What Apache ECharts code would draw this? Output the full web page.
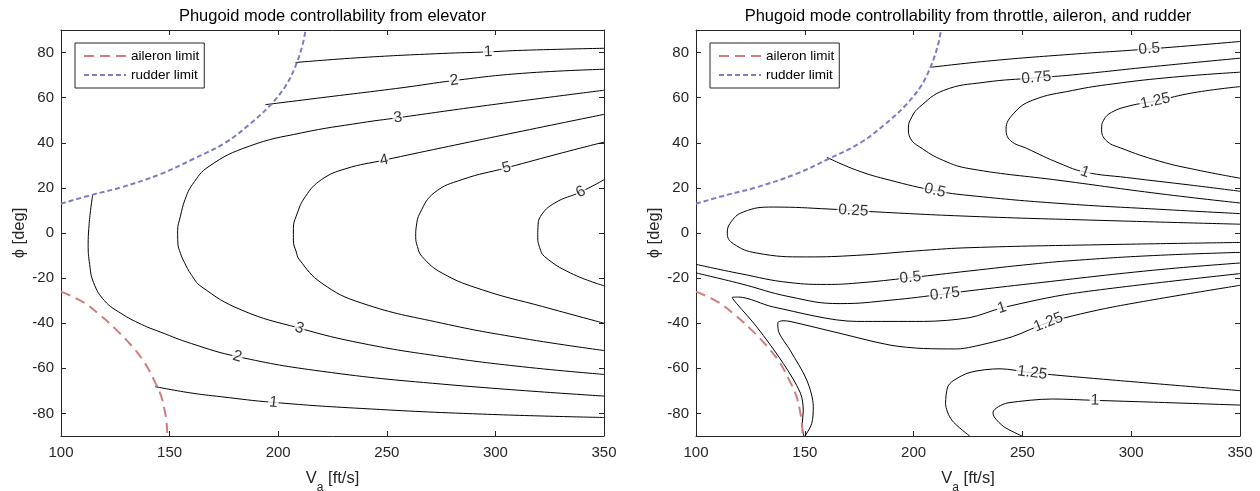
<!DOCTYPE html>
<html><head><meta charset="utf-8">
<script src="https://cdn.jsdelivr.net/npm/echarts@6/dist/echarts.min.js"></script>
<style>html,body{margin:0;padding:0;background:#fff}#c{width:1260px;height:491px}</style>
</head><body><div id="c"></div>
<script>
// ---------- data (V_a [ft/s], phi [deg]) ----------
const TITLES = ['Phugoid mode controllability from elevator', 'Phugoid mode controllability from throttle, aileron, and rudder'];
const LEGEND_NAMES = ['aileron limit', 'rudder limit'];
const RUDDER_LIMIT = [[100,13],[114.6,17],[127.6,20.2],[146,26.2],[160.8,32.8],[175.6,40],[186.7,48.1],[196,56.3],[203.4,65.2],[208,74.1],[211.1,83],[212.6,90]];
const AILERON_LIMIT = [[100,-26],[110,-30.5],[117.5,-36],[125,-42.5],[132.5,-50],[138.5,-57.5],[143,-65.5],[146,-72],[147.6,-78],[148.6,-84],[149,-90]];

// left panel contours (elevator)
const L_1_TOP = [[208,75.6],[238.5,77.8],[275.5,79.6],[296.7,80.3],[312.5,81],[350,81.9]];
const L_1_BOT = [[143.3,-68.1],[159,-70.8],[173.8,-72.6],[197.8,-75.1],[238.5,-77.8],[294,-80.3],[350,-81.8]];
const L_2_TOP = [[194.1,56.9],[220,60],[257,64.4],[281,67.6],[312.5,70.8],[350,72.6]];
const L_2_MAIN = [[114.6,17],[113.6,10],[112.8,2],[112.5,-5],[113.2,-14],[115,-22],[120,-30],[127.6,-35.6],[137,-40.5],[146,-44],[160,-49],[181.2,-54.8],[220,-61.3],[275.5,-67],[350,-72.3]];
const L_3 = [[350,63.3],[294,56.3],[255.1,51.1],[238.5,48.9],[210.8,44.4],[186.7,38.5],[168.2,29.6],[160.5,21.5],[157.1,14.8],[155,7.5],[153.7,1],[153.8,-4.5],[155,-9],[156.8,-13],[160,-18.5],[164.5,-23.7],[183,-34.1],[209.8,-42.2],[238.5,-48.9],[275.5,-54.8],[312.5,-59.3],[350,-62.7]];
const L_4 = [[350,52.6],[312.5,45.2],[275.5,37.8],[248.7,32.3],[231.1,28.5],[220,23.7],[212.6,16.3],[208.3,7.5],[207,2],[207,-3.5],[208.2,-8],[209.8,-11.9],[220,-22.2],[238.5,-31.1],[275.5,-40],[312.5,-46.7],[350,-52.1]];
const L_5 = [[350,40.3],[331,35.6],[305.1,28.9],[284.7,23.7],[271.8,17.8],[265.3,8.9],[263.6,3],[263.3,-1.5],[264.1,-6],[266.2,-10.4],[275.5,-17.8],[294,-25.2],[321.7,-32.6],[350,-40]];
const L_6 = [[350,23.6],[339.3,18.2],[327.3,13.3],[320.8,7.4],[319.6,2.5],[319.5,-2],[320.4,-6.5],[322.6,-10.4],[334.7,-17.8],[350,-23.4]];

// right panel contours (throttle, aileron, rudder)
const R_05_TOP = [[208.2,73.5],[236,76.4],[272,79.2],[308.3,81.6],[350,84.9]];
const R_075 = [[350,77.5],[310.2,73.8],[273.1,70.1],[256.4,68.8],[232.4,66.8],[213.8,63.2],[202.7,55.8],[199.2,51.5],[197.6,46.5],[198.5,42],[202.9,38.1],[213.6,32.2],[225.9,28.5],[267.3,23.3],[313.2,17.4],[350,13.3]];
const R_1 = [[350,71.3],[319.4,69.1],[291.6,66.1],[273.1,63.2],[254.5,58.8],[246,53],[242.5,46],[244.5,41],[252,37.5],[267.3,30.8],[278.8,27],[297.9,24.6],[328.5,21.1],[350,18.5]];
const R_125 = [[350,64.9],[328.7,62.2],[311.1,58.5],[299,56.3],[291,53.5],[287.3,50],[286.4,46],[288.5,41],[294.9,37.8],[313.2,31.8],[330,28],[350,24.3]];
const R_05_MID = [[160.1,33.6],[173.9,27.8],[189.2,23.4],[209.8,18.8],[225.9,16.6],[267.3,13.1],[313.2,10.5],[350,8.6]];
const R_025 = [[350,3.9],[285.7,5.6],[225.9,7.4],[180,9.5],[161.6,10.6],[135.5,11.5],[121.7,9.3],[115.6,4.2],[114.4,-0.3],[117.1,-4.7],[127.9,-8.9],[150.9,-10.6],[173.9,-9.9],[204.5,-7.7],[225.9,-6.5],[285.7,-5.2],[350,-4.2]];
const R_05_LOW = [[100,-13.9],[120.2,-18],[143.2,-22],[160,-22.8],[173.9,-22.2],[198.5,-19.8],[225.9,-16.8],[254.5,-13.8],[273.3,-12.2],[310.2,-10],[350,-8.6]];
const R_075_LOW = [[100,-17.7],[120.2,-22.4],[143.2,-28.3],[166.2,-31.3],[189.2,-29.8],[214.4,-27],[225.9,-25.6],[254.5,-22.4],[310.2,-16.5],[350,-13.3]];
const R_1_LOW = [[149.5,-90],[148.8,-85],[149.3,-79],[148,-71],[140.1,-57.8],[127.9,-41.6],[118.7,-31.3],[116.6,-28.6],[119.5,-28.4],[135.5,-32.8],[173.9,-39.2],[204.5,-39.2],[225.9,-37.5],[240.6,-33.2],[273.1,-26.8],[350,-18]];
const R_125_LOW = [[150.1,-90],[153.2,-84.4],[153.9,-77],[150.9,-65.2],[143.2,-51.9],[137.8,-43.1],[137.6,-39.8],[140,-38.9],[143.2,-39.2],[166.2,-44.5],[189.2,-49.7],[204.5,-51.2],[219.8,-51.4],[226.8,-50.5],[245.3,-46],[262,-39.6],[291.6,-32.8],[350,-23.2]];
const R_125_BR = [[225.8,-90],[217.5,-82.9],[214.7,-75.5],[215.7,-68.2],[218.2,-65.5],[225.9,-61.8],[239.7,-60.2],[254.5,-62],[291.6,-65.2],[350,-69.9]];
const R_1_BR = [[249.8,-90],[241.5,-85.9],[237,-81.5],[236.5,-79.5],[239,-77],[243.4,-75.3],[263.8,-73.6],[283.3,-74.2],[310.2,-75],[350,-76.3]];

const LEFT_CONTOURS = [L_1_TOP, L_1_BOT, L_2_TOP, L_2_MAIN, L_3, L_4, L_5, L_6];
const RIGHT_CONTOURS = [R_05_TOP, R_075, R_1, R_125, R_05_MID, R_025, R_05_LOW, R_075_LOW, R_1_LOW, R_125_LOW, R_125_BR, R_1_BR];
const RIGHT_TIPS = [R_1_LOW, R_125_LOW, R_125_BR, R_1_BR];

// contour labels: [V, phi, text, contour]
const LEFT_LABELS = [[296.7,80.3,'1',L_1_TOP],[281,67.6,'2',L_2_TOP],[255.1,51.1,'3',L_3],[248.7,32.3,'4',L_4],[305.1,28.9,'5',L_5],[339.3,18.2,'6',L_6],[209.8,-42.2,'3',L_3],[181.2,-54.8,'2',L_2_MAIN],[197.8,-75.1,'1',L_1_BOT]];
const RIGHT_LABELS = [[308.3,81.6,'0.5',R_05_TOP],[256.4,68.8,'0.75',R_075],[311.1,58.5,'1.25',R_125],[278.8,27,'1',R_1],[209.8,18.8,'0.5',R_05_MID],[172.3,9.9,'0.25',R_025],[198.5,-19.8,'0.5',R_05_LOW],[214.4,-27,'0.75',R_075_LOW],[240.6,-33.2,'1',R_1_LOW],[262,-39.6,'1.25',R_125_LOW],[254.5,-62,'1.25',R_125_BR],[283.3,-74.2,'1',R_1_BR]];

// ---------- chart ----------
const FONT = 'Liberation Sans, Arial, Helvetica, sans-serif';
const AX = '#262626';
const chart = echarts.init(document.getElementById('c'), null, {renderer: 'canvas'});

function xAxes(g) {
  const base = {gridIndex: g, type: 'value', min: 100, max: 350, interval: 50,
    axisLine: {show: true, onZero: false, lineStyle: {color: AX, width: 1}},
    axisTick: {show: true, inside: true, length: 5, lineStyle: {color: AX}},
    splitLine: {show: false}};
  return [
    Object.assign({}, base, {position: 'bottom',
      axisLabel: {color: AX, fontSize: 15, margin: 9, fontFamily: FONT},
      name: '{n|V}{s|a}{n| [ft/s]}', nameLocation: 'middle', nameGap: 26,
      nameTextStyle: {color: AX, fontFamily: FONT, rich: {
        n: {fontSize: 16.5, color: AX, fontFamily: FONT, lineHeight: 32, verticalAlign: 'middle'},
        s: {fontSize: 12, color: AX, fontFamily: FONT, lineHeight: 32, verticalAlign: 'bottom'}}}}),
    Object.assign({}, base, {position: 'top', axisLabel: {show: false}})
  ];
}
function yAxes(g) {
  const base = {gridIndex: g, type: 'value', min: -90, max: 90, splitNumber: 9,
    axisLine: {show: true, onZero: false, lineStyle: {color: AX, width: 1}},
    axisTick: {show: true, inside: true, length: 5, lineStyle: {color: AX}},
    splitLine: {show: false}};
  return [
    Object.assign({}, base, {position: 'left',
      axisLabel: {color: AX, fontSize: 15, margin: 7, fontFamily: FONT,
        formatter: v => (Math.abs(v) >= 90 ? '' : String(v))},
      name: 'ϕ [deg]', nameLocation: 'middle', nameGap: 33,
      nameTextStyle: {color: AX, fontSize: 16.5, fontFamily: FONT}}),
    Object.assign({}, base, {position: 'right', axisLabel: {show: false}})
  ];
}

function contourSeries(arr, axisIdx) {
  return arr.map(d => ({type: 'line', data: d, xAxisIndex: axisIdx, yAxisIndex: axisIdx,
    symbol: 'none', showSymbol: false, smooth: RIGHT_TIPS.includes(d) ? 0.3 : 0.45,
    clip: true, silent: true, z: 2, lineStyle: {color: '#000', width: 1}}));
}
function limitSeries(axisIdx) {
  return [
    {name: LEGEND_NAMES[0], type: 'line', data: AILERON_LIMIT, xAxisIndex: axisIdx, yAxisIndex: axisIdx,
      symbol: 'none', showSymbol: false, smooth: 0.4, clip: true, z: 3, silent: true,
      itemStyle: {color: '#d47c7c'},
      lineStyle: {color: '#d47c7c', width: 2, type: [10, 6]}},
    {name: LEGEND_NAMES[1], type: 'line', data: RUDDER_LIMIT, xAxisIndex: axisIdx, yAxisIndex: axisIdx,
      symbol: 'none', showSymbol: false, smooth: 0.4, clip: true, z: 3, silent: true,
      itemStyle: {color: '#7c7cc6'},
      lineStyle: {color: '#7c7cc6', width: 2, type: [5, 3]}}
  ];
}
function legend(left) {
  return {data: LEGEND_NAMES, left: left, top: 43, orient: 'vertical', selectedMode: false,
    backgroundColor: '#fff', borderColor: '#262626', borderWidth: 1, borderRadius: 0,
    padding: [6, 5, 6, 8], itemGap: 5, itemWidth: 42, itemHeight: 12,
    itemStyle: {opacity: 0},
    textStyle: {color: '#000', fontSize: 13.5, fontFamily: FONT}};
}

const option = {
  animation: false,
  backgroundColor: '#fff',
  title: [
    {text: TITLES[0], left: 332.5, top: 8, padding: 0, textAlign: 'center',
      textStyle: {fontSize: 16.5, fontWeight: 'normal', color: '#000', fontFamily: FONT}},
    {text: TITLES[1], left: 968, top: 8, padding: 0, textAlign: 'center',
      textStyle: {fontSize: 16.5, fontWeight: 'normal', color: '#000', fontFamily: FONT}}
  ],
  legend: [legend(75), legend(710)],
  grid: [
    {left: 61, right: 656, top: 30, bottom: 55, containLabel: false, outerBoundsMode: 'none'},
    {left: 696, right: 20, top: 30, bottom: 55, containLabel: false, outerBoundsMode: 'none'}
  ],
  xAxis: xAxes(0).concat(xAxes(1)),
  yAxis: yAxes(0).concat(yAxes(1)),
  series: [].concat(
    contourSeries(LEFT_CONTOURS, 0), limitSeries(0),
    contourSeries(RIGHT_CONTOURS, 2), limitSeries(2))
};
chart.setOption(option);

function labelData(labels, axisIdx) {
  return labels.map(([v, p, text, contour]) => {
    const finder = {xAxisIndex: axisIdx, yAxisIndex: axisIdx};
    const c = chart.convertToPixel(finder, [v, p]);
    const pts = contour.map(q => chart.convertToPixel(finder, q));
    let best = 0, bd = Infinity;
    for (let i = 0; i < pts.length - 1; i++) {
      const a = pts[i], b = pts[i + 1];
      const dx = b[0] - a[0], dy = b[1] - a[1];
      const t = Math.max(0, Math.min(1, ((c[0] - a[0]) * dx + (c[1] - a[1]) * dy) / (dx * dx + dy * dy)));
      const ex = a[0] + t * dx - c[0], ey = a[1] + t * dy - c[1];
      const d = ex * ex + ey * ey;
      if (d < bd) { bd = d; best = i; }
    }
    const a = pts[best], b = pts[best + 1];
    let ang = Math.atan2(-(b[1] - a[1]), b[0] - a[0]) * 180 / Math.PI;
    if (ang > 90) ang -= 180;
    if (ang < -90) ang += 180;
    return {name: text, value: [v, p], label: {rotate: ang}};
  });
}
function labelSeries(labels, axisIdx) {
  return {type: 'scatter', xAxisIndex: axisIdx, yAxisIndex: axisIdx, data: labelData(labels, axisIdx),
    symbolSize: 1, itemStyle: {color: 'rgba(0,0,0,0)'}, silent: true, z: 5,
    label: {show: true, position: 'inside', formatter: '{b}', color: '#000', fontSize: 15.5,
      fontFamily: FONT, backgroundColor: '#fff', padding: [0, 1, 0, 1]}};
}
chart.setOption({series: option.series.concat([labelSeries(LEFT_LABELS, 0), labelSeries(RIGHT_LABELS, 2)])});
</script>
</body></html>
